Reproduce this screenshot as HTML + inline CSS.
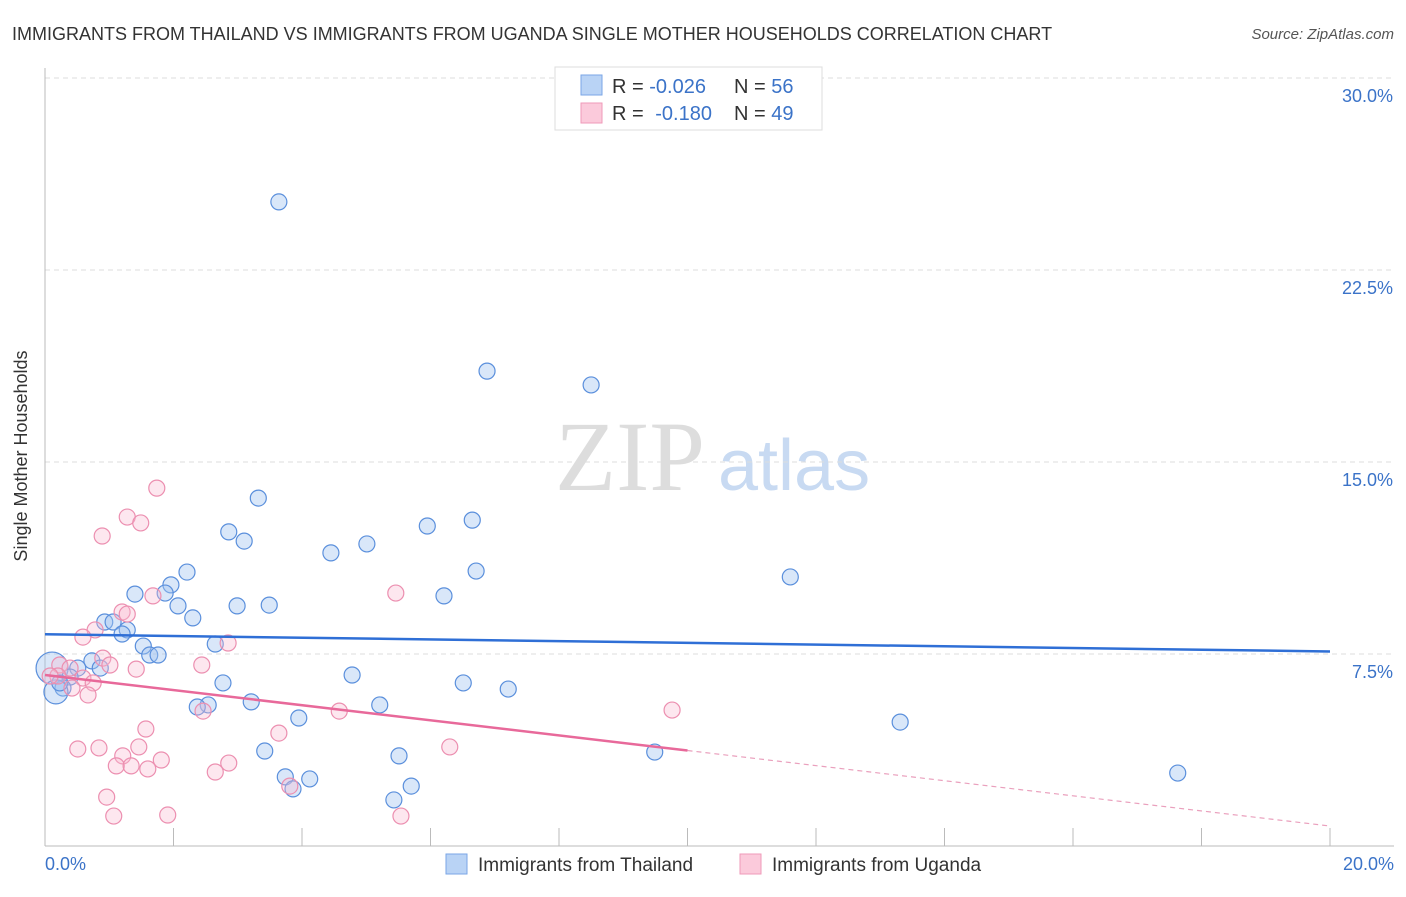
<!DOCTYPE html>
<html><head><meta charset="utf-8"><style>
body{margin:0;background:#fff;font-family:"Liberation Sans",sans-serif;}
svg text{font-family:"Liberation Sans",sans-serif;}
</style></head><body>
<svg id="chart" width="1406" height="892" xmlns="http://www.w3.org/2000/svg">
<text x="12" y="40" font-size="18" fill="#333">IMMIGRANTS FROM THAILAND VS IMMIGRANTS FROM UGANDA SINGLE MOTHER HOUSEHOLDS CORRELATION CHART</text>
<text x="1394" y="39" font-size="15" fill="#555" font-style="italic" text-anchor="end">Source: ZipAtlas.com</text>
<text x="555" y="490" font-size="100" fill="#ddd" font-family="Liberation Serif" style="font-family:'Liberation Serif',serif">ZIP</text>
<text x="718" y="490" font-size="72" fill="#c8daf2">atlas</text>
<g id="grid"></g>
<g id="axes"></g>
<g id="points"></g>
<g id="trend"></g>
<text x="27" y="456" font-size="18" fill="#333" transform="rotate(-90 27 456)" text-anchor="middle">Single Mother Households</text>
<text x="45" y="870" font-size="18" fill="#3b73c8">0.0%</text>
<text x="1394" y="870" font-size="18" fill="#3b73c8" text-anchor="end">20.0%</text>
<g>
<rect x="555" y="67" width="267" height="63" fill="#fff" stroke="#ddd"/>
<rect x="581" y="75" width="21" height="20" fill="#b9d3f5" stroke="#7aa6e6"/>
<rect x="581" y="103" width="21" height="20" fill="#fbcadb" stroke="#ef9ab8"/>
<text x="612" y="93" font-size="20" fill="#333">R = <tspan fill="#3b73c8">-0.026</tspan></text>
<text x="734" y="93" font-size="20" fill="#333">N = <tspan fill="#3b73c8">56</tspan></text>
<text x="612" y="120" font-size="20" fill="#333">R = <tspan fill="#3b73c8" dx="6">-0.180</tspan></text>
<text x="734" y="120" font-size="20" fill="#333">N = <tspan fill="#3b73c8">49</tspan></text>
</g>
<g>
<rect x="446" y="854" width="21" height="20" fill="#b9d3f5" stroke="#7aa6e6"/>
<text x="478" y="871" font-size="19" fill="#333">Immigrants from Thailand</text>
<rect x="740" y="854" width="21" height="20" fill="#fbcadb" stroke="#ef9ab8"/>
<text x="772" y="871" font-size="19" fill="#333">Immigrants from Uganda</text>
</g>
</svg>
<script>
const yTicks=[7.5,15,22.5,30];
const yTickLabels=["7.5%","15.0%","22.5%","30.0%"];
const xTicks=[0,2,4,6,8,10,12,14,16,18,20];
const thaiX=[3.64,6.88,8.50,3.32,2.86,3.10,5.95,6.65,5.01,4.45,6.71,11.60,2.21,1.96,1.40,1.87,2.07,2.30,2.99,3.49,6.21,0.93,1.06,1.28,1.20,1.53,2.65,1.63,1.76,0.73,0.51,0.86,0.11,0.39,4.78,6.51,7.21,2.77,0.28,0.17,3.21,2.54,2.37,5.21,3.95,13.31,3.42,9.49,5.51,3.74,4.12,17.63,3.86,5.70,5.43,0.23];
const thaiY=[25.16,18.55,18.01,13.59,12.27,11.91,12.5,12.73,11.8,11.45,10.74,10.51,10.70,10.2,9.84,9.88,9.38,8.91,9.38,9.41,9.77,8.75,8.75,8.44,8.28,7.81,7.89,7.46,7.46,7.23,6.95,6.95,6.95,6.60,6.68,6.37,6.13,6.37,6.17,6.02,5.63,5.51,5.43,5.51,5.0,4.84,3.71,3.67,3.52,2.70,2.62,2.85,2.23,2.34,1.80,6.37];
const thaiSize=[1,1,1,1,1,1,1,1,1,1,1,1,1,1,1,1,1,1,1,1,1,1,1,1,1,1,1,1,1,1,1,1,2,1,1,1,1,1,1,1.5,1,1,1,1,1,1,1,1,1,1,1,1,1,1,1,1];
const ugX=[1.74,1.28,1.49,0.89,5.46,1.20,1.28,1.68,0.78,0.59,2.85,0.90,1.01,2.44,1.42,0.23,0.39,0.20,0.08,0.59,0.75,0.42,0.67,2.46,4.58,9.76,1.57,3.64,0.51,0.84,1.46,1.21,6.30,1.81,1.11,1.34,1.60,2.86,2.65,0.96,1.07,1.91,5.54,3.81];
const ugY=[13.98,12.85,12.62,12.11,9.88,9.14,9.06,9.77,8.44,8.16,7.93,7.34,7.07,7.07,6.91,7.07,6.95,6.64,6.64,6.56,6.37,6.17,5.90,5.27,5.27,5.31,4.57,4.41,3.79,3.83,3.87,3.52,3.87,3.36,3.13,3.13,3.01,3.24,2.89,1.91,1.17,1.21,1.17,2.34];
const thaiTrend=[8.27,7.6];
const ugTrend=[6.68,0.78];
const ugSolidEnd=10;
const X=v=>45+v*64.25, Y=v=>846-v*25.6;
const NS="http://www.w3.org/2000/svg";
function mk(tag,attrs,parent){const e=document.createElementNS(NS,tag);for(const k in attrs)e.setAttribute(k,attrs[k]);parent.appendChild(e);return e;}
const grid=document.getElementById('grid'),axes=document.getElementById('axes'),pts=document.getElementById('points'),tr=document.getElementById('trend');
yTicks.forEach((t,i)=>{
 const l=mk('line',{x1:45,x2:1394,y1:Y(t),y2:Y(t),stroke:'#ddd','stroke-dasharray':'5,4'},grid);
 
 
 const tx=mk('text',{x:1393,y:Y(t)+24,'font-size':18,fill:'#3b73c8','text-anchor':'end'},grid);
 tx.textContent=yTickLabels[i];
 
 
});
const ax=mk('line',{x1:45,x2:45,y1:68,y2:846,stroke:'#bbb'},axes);


const bx=mk('line',{x1:45,x2:1394,y1:846,y2:846,stroke:'#bbb'},axes);


xTicks.forEach(t=>{
 const l=mk('line',{x1:X(t),x2:X(t),y1:828,y2:846,stroke:'#bbb'},axes);
 
 
});
thaiX.forEach((v,i)=>{
 const c=mk('circle',{cx:X(v),cy:Y(thaiY[i]),r:8*thaiSize[i],fill:'rgba(160,195,240,0.4)',stroke:'#5a8fdc','stroke-width':1.2},pts);
 
 
});
ugX.forEach((v,i)=>{
 const c=mk('circle',{cx:X(v),cy:Y(ugY[i]),r:8,fill:'rgba(248,185,208,0.35)',stroke:'#ec8fb0','stroke-width':1.2},pts);
 
 
});
const t1=mk('line',{x1:X(0),y1:Y(thaiTrend[0]),x2:X(20),y2:Y(thaiTrend[1]),stroke:'#2f6fd6','stroke-width':2.5},tr);


const ym=ugTrend[0]+(ugTrend[1]-ugTrend[0])*ugSolidEnd/20;
const t2=mk('line',{x1:X(0),y1:Y(ugTrend[0]),x2:X(ugSolidEnd),y2:Y(ym),stroke:'#e8699a','stroke-width':2.5},tr);


const t3=mk('line',{x1:X(ugSolidEnd),y1:Y(ym),x2:X(20),y2:Y(ugTrend[1]),stroke:'#eaa0bd','stroke-width':1.2,'stroke-dasharray':'5,4'},tr);


</script>
</body></html>
